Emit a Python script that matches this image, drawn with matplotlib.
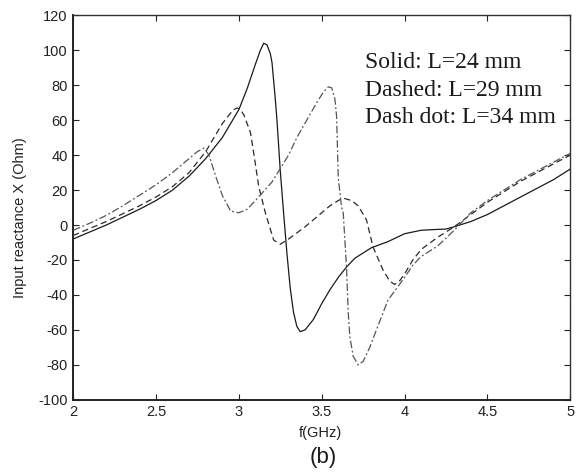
import matplotlib
matplotlib.use("Agg")
import matplotlib.pyplot as plt

# values (f in GHz, X in Ohm)
f_solid = [2.0, 2.1, 2.2, 2.3, 2.4, 2.5, 2.6, 2.7, 2.8, 2.9, 3.0, 3.05, 3.1,
           3.13, 3.15, 3.17, 3.19, 3.2, 3.22, 3.23, 3.25, 3.27, 3.29, 3.31,
           3.33, 3.35, 3.37, 3.4, 3.45, 3.5, 3.55, 3.6, 3.65, 3.7, 3.8, 3.9,
           4.0, 4.1, 4.2, 4.25, 4.3, 4.4, 4.5, 4.6, 4.7, 4.8, 4.9, 5.0]
x_solid = [-8, -4, 0, 4.5, 9, 14, 20, 28, 38, 50, 66, 78, 92,
           100, 104, 103, 98, 93, 72, 60, 31, 7, -16, -36,
           -50, -58, -61, -60, -54, -45, -37, -30, -24, -19, -13, -9.5,
           -5, -3, -2.5, -2.3, -1, 2, 6, 11, 16, 21, 26, 32]

f_dashed = [2.0, 2.1, 2.2, 2.3, 2.4, 2.5, 2.6, 2.7, 2.8, 2.85, 2.9, 2.95,
            2.97, 2.99, 3.01, 3.03, 3.07, 3.09, 3.12, 3.16, 3.21, 3.25, 3.3,
            3.4, 3.5, 3.55, 3.6, 3.63, 3.68, 3.72, 3.77, 3.81, 3.87, 3.91,
            3.94, 3.97, 4.0, 4.05, 4.1, 4.2, 4.3, 4.4, 4.5, 4.6, 4.7, 4.8,
            4.9, 5.0]
x_dashed = [-6, -2, 2, 6.5, 11, 16, 22, 30, 42, 50, 58, 64,
            66, 67, 66, 63, 53, 41, 22, 7, -8.6, -11, -8,
            -1, 7, 11, 14, 15.4, 14, 11, 3, -12.6, -25.7, -32,
            -34, -32, -28, -20, -14, -7, -1, 6, 13, 19, 25, 30,
            35, 40]

f_dashdot = [2.0, 2.1, 2.2, 2.3, 2.4, 2.5, 2.6, 2.7, 2.75, 2.79, 2.82, 2.86,
             2.9, 2.95, 3.0, 3.05, 3.1, 3.2, 3.3, 3.35, 3.41, 3.47, 3.51,
             3.54, 3.56, 3.58, 3.59, 3.6, 3.62, 3.63, 3.65, 3.66, 3.67, 3.69,
             3.72, 3.75, 3.79, 3.83, 3.9, 4.0, 4.05, 4.1, 4.2, 4.3, 4.4, 4.5,
             4.6, 4.7, 4.8, 4.9, 5.0]
x_dashdot = [-3, 1, 5.5, 11, 17, 23, 30, 38, 42, 44, 40, 28,
             17, 8, 7, 9, 14, 24.6, 40, 50, 60, 70, 76,
             79, 78.5, 72, 62, 27, 10, 7, -24.6, -50, -64, -75,
             -80, -78, -70, -60, -43, -30, -23, -18, -12, -3, 7, 14,
             20, 26, 31, 36, 41]

legend_lines = ["Solid: L=24 mm", "Dashed: L=29 mm", "Dash dot: L=34 mm"]
legend_y = [93, 77, 61.5]

x_ticks = [2, 2.5, 3, 3.5, 4, 4.5, 5]
x_tick_labels = ["2", "2.5", "3", "3.5", "4", "4.5", "5"]
y_ticks = list(range(-100, 121, 20))

plt.rcParams["font.family"] = ["Liberation Sans", "DejaVu Sans"]
plt.rcParams["axes.unicode_minus"] = False

fig = plt.figure(figsize=(5.76, 4.76), dpi=100)
ax = fig.add_axes([0.127, 0.160, 0.863, 0.808])

ax.plot(f_solid, x_solid, color="#1a1a1a", linewidth=0.9, linestyle="-")
ax.plot(f_dashed, x_dashed, color="#2a2a2a", linewidth=0.9,
        linestyle=(0, (5, 3)))
ax.plot(f_dashdot, x_dashdot, color="#555555", linewidth=0.9,
        linestyle=(0, (6, 2, 1.5, 2)))

ax.set_xlim(2, 5)
ax.set_ylim(-100, 120)
ax.set_xticks(x_ticks)
ax.set_xticklabels(x_tick_labels)
ax.set_yticks(y_ticks)
ax.tick_params(direction="in", length=4, width=0.8, top=True, right=True,
               labelsize=10.5, pad=4, colors="#222222")
for side in ["left", "bottom"]:
    ax.spines[side].set_linewidth(1.4)
    ax.spines[side].set_color("#222222")
for side in ["top", "right"]:
    ax.spines[side].set_linewidth(1.0)
    ax.spines[side].set_color("#333333")

ax.set_ylabel("Input reactance X (Ohm)", fontsize=10.5, color="#222222")
ax.yaxis.set_label_coords(-0.093, 0.473)
ax.set_xlabel("f(GHz)", fontsize=10.5, color="#222222")
ax.xaxis.set_label_coords(0.497, -0.068)

for text, y in zip(legend_lines, legend_y):
    ax.text(3.762, y, text, family=["Liberation Serif", "DejaVu Serif"],
            fontsize=17, va="center", ha="left", color="#1a1a1a")

fig.text(323 / 576, 1 - 457 / 476, "(b)", fontsize=16, ha="center",
         va="center", color="#1a1a1a")

fig.savefig("out.png", dpi=100)
